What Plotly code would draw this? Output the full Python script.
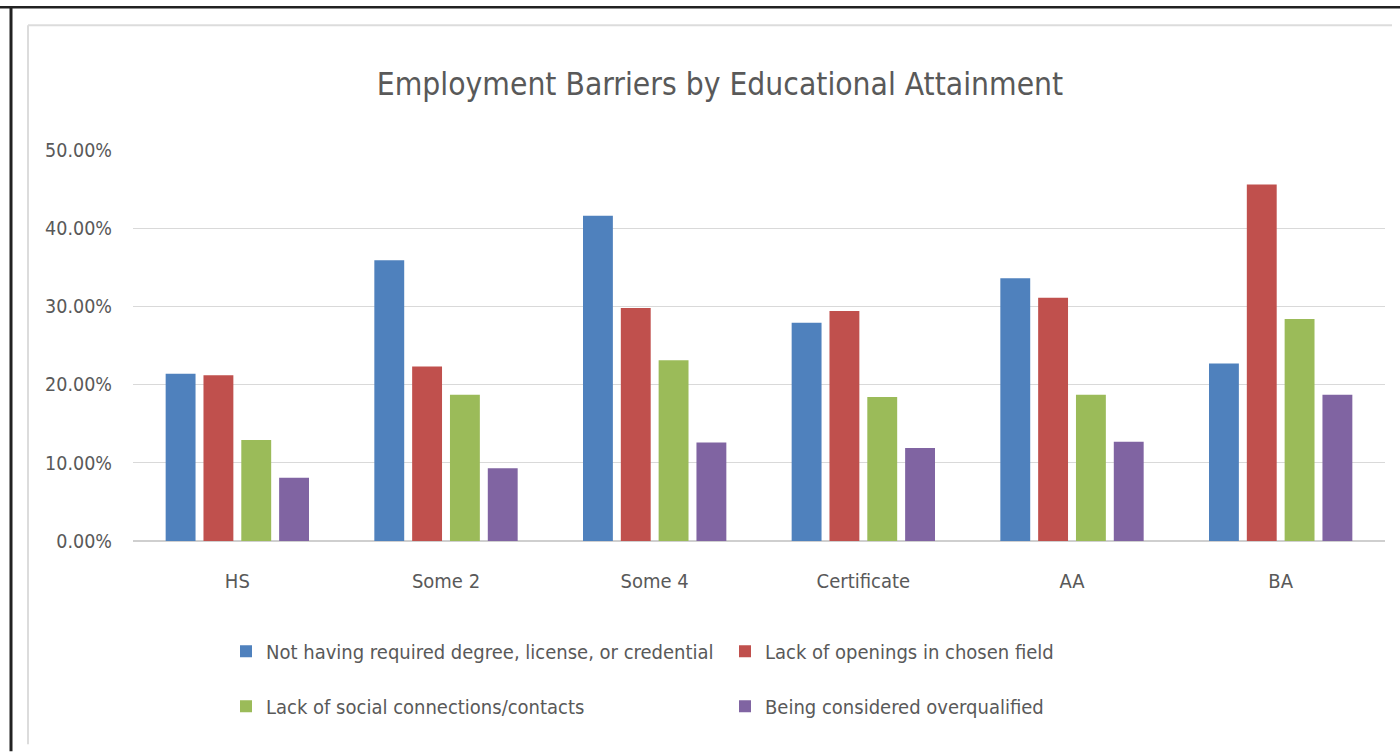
import plotly.graph_objects as go

# Educational attainment groups (x categories)
categories = ["HS", "Some 2", "Some 4", "Certificate", "AA", "BA"]

# Share of respondents reporting each barrier
not_having_credential = [0.214, 0.359, 0.416, 0.279, 0.336, 0.227]
lack_of_openings = [0.212, 0.223, 0.298, 0.294, 0.311, 0.456]
lack_of_connections = [0.129, 0.187, 0.231, 0.184, 0.187, 0.284]
overqualified = [0.081, 0.093, 0.126, 0.119, 0.127, 0.187]

series_names = [
    "Not having required degree, license, or credential",
    "Lack of openings in chosen field",
    "Lack of social connections/contacts",
    "Being considered overqualified",
]
series_values = [not_having_credential, lack_of_openings, lack_of_connections, overqualified]
series_colors = ["#4f81bd", "#c0504d", "#9bbb59", "#8064a2"]
series_legends = ["legend", "legend", "legend2", "legend2"]

y_ticks = [0, 0.1, 0.2, 0.3, 0.4, 0.5]

W, H = 1400, 752
PL, PR, PT, PB = 133, 1385, 150, 541.5  # plot area in pixels

FONT = "Liberation Sans Narrow, Arial Narrow, DejaVu Sans Condensed, sans-serif"
TEXT = "#595959"


def px_x(px):
    return (px - PL) / (PR - PL)


def px_y(py):
    return (PB - py) / (PB - PT)


fig = go.Figure()
for name, vals, color, lg in zip(series_names, series_values, series_colors, series_legends):
    fig.add_trace(go.Bar(
        x=categories, y=vals, name=name, marker=dict(color=color, line=dict(width=0)),
        legend=lg,
    ))

legend_common = dict(
    orientation="h", font=dict(family=FONT, size=20, color=TEXT),
    entrywidth=454, entrywidthmode="pixels", itemwidth=30,
    bgcolor="rgba(0,0,0,0)", xanchor="left", yanchor="middle",
    traceorder="normal", itemclick=False, itemdoubleclick=False,
)

# Chart frame: dark outer border and light inner chart-area border
shapes = [
    dict(type="line", xref="paper", yref="paper", x0=px_x(0), x1=px_x(W), y0=px_y(7), y1=px_y(7),
         line=dict(color="#222222", width=2.5)),
    dict(type="line", xref="paper", yref="paper", x0=px_x(11), x1=px_x(11), y0=px_y(6), y1=px_y(H),
         line=dict(color="#222222", width=3)),
    dict(type="line", xref="paper", yref="paper", x0=px_x(28), x1=px_x(1392), y0=px_y(25), y1=px_y(25),
         line=dict(color="#dcdcdc", width=2)),
    dict(type="line", xref="paper", yref="paper", x0=px_x(28), x1=px_x(28), y0=px_y(25), y1=px_y(745),
         line=dict(color="#dcdcdc", width=2)),
]

fig.update_layout(
    width=W, height=H,
    margin=dict(l=PL, r=W - PR, t=PT, b=H - PB, pad=0),
    paper_bgcolor="white", plot_bgcolor="white",
    font=dict(family=FONT, color=TEXT),
    title=dict(
        text="Employment Barriers by Educational Attainment",
        font=dict(family=FONT, size=31.5, color=TEXT),
        xref="paper", x=px_x(720), xanchor="center",
        yref="container", y=1 - 84 / H, yanchor="middle",
    ),
    barmode="group", bargap=0.275, bargroupgap=0.21,
    xaxis=dict(
        showgrid=False, showline=False, zeroline=False,
        tickfont=dict(family=FONT, size=20, color=TEXT),
        ticks="", ticklabelstandoff=26,
    ),
    yaxis=dict(
        range=[0, 0.5], tickvals=y_ticks, tickformat=".2%",
        showgrid=True, gridcolor="#d9d9d9", gridwidth=1.3,
        zeroline=True, zerolinecolor="#cfcfcf", zerolinewidth=1.5,
        showline=False, ticks="",
        tickfont=dict(family=FONT, size=19.5, color=TEXT),
        ticklabelstandoff=20,
    ),
    legend=dict(x=px_x(226), y=px_y(652), **legend_common),
    legend2=dict(x=px_x(226), y=px_y(707), **legend_common),
    shapes=shapes,
    showlegend=True,
)

fig.write_html("out.html")
